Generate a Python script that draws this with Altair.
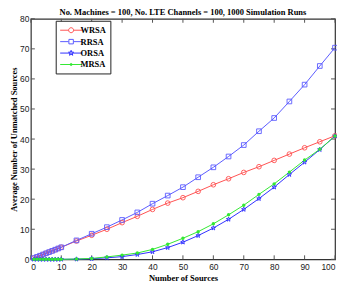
import altair as alt
import pandas as pd
import math

# ---- data ----
x_vals = [1, 2, 3, 4, 5, 6, 7, 8, 9, 10, 15, 20, 25, 30, 35, 40, 45, 50,
          55, 60, 65, 70, 75, 80, 85, 90, 95, 100]
wrsa = [0.4, 0.8, 1.2, 1.6, 2.0, 2.4, 2.8, 3.2, 3.6, 4.0, 6.1, 8.0, 10.0, 12.2,
        14.3, 16.6, 18.7, 20.5, 22.6, 24.8, 26.8, 28.9, 30.8, 32.9, 35.0,
        37.1, 39.1, 41.1]
rrsa = [0.4, 0.8, 1.2, 1.6, 2.0, 2.4, 2.8, 3.2, 3.6, 4.0, 6.3, 8.5, 10.7, 13.1,
        15.6, 18.5, 21.2, 24.0, 27.3, 30.6, 34.2, 38.0, 42.6, 47.0, 52.5,
        58.1, 64.3, 70.4]
orsa = [0, 0, 0, 0, 0, 0, 0, 0, 0, 0, 0.05, 0.2, 0.5, 0.9, 1.6, 2.5, 3.9,
        5.7, 7.9, 10.4, 13.3, 16.6, 20.2, 24.0, 28.2, 32.3, 36.5, 41.0]
mrsa = [0, 0, 0, 0, 0, 0, 0, 0, 0, 0, 0.1, 0.3, 0.8, 1.4, 2.1, 3.3, 5.0,
        7.0, 9.2, 11.8, 14.8, 18.0, 21.6, 25.1, 29.0, 33.0, 36.6, 41.0]
series_names = ["WRSA", "RRSA", "ORSA", "MRSA"]
series_vals = [wrsa, rrsa, orsa, mrsa]
x_ticks = [0, 10, 20, 30, 40, 50, 60, 70, 80, 90, 100]
y_ticks = [0, 10, 20, 30, 40, 50, 60, 70, 80]

title_text = "No. Machines = 100, No. LTE Channels = 100, 1000 Simulation Runs"
x_title = "Number of Sources"
y_title = "Average Number of Unmatched Sources"

# ---- styles ----
colors = ["#ff5252", "#5c5cff", "#3030ff", "#33e833"]
W, H = 306, 242
SERIF = "Liberation Serif"
SANS = "Liberation Sans"


def star_path(R, r):
    pts = []
    for k in range(10):
        ang = math.radians(-90 + 36 * k)
        rad = R if k % 2 == 0 else r
        pts.append((rad * math.cos(ang), rad * math.sin(ang)))
    return "M" + "L".join(f"{px:.3f},{py:.3f}" for px, py in pts) + "Z"


def circle_path(rad):
    return f"M{-rad},0A{rad},{rad} 0 1,0 {rad},0A{rad},{rad} 0 1,0 {-rad},0"


def square_path(h):
    return f"M{-h},{-h}H{h}V{h}H{-h}Z"


# data-point shapes
pt_shapes = ["circle", "square", star_path(1, 0.42), "circle"]
# legend shapes: line + marker (legend symbol scale: 1 unit = 5 px)
L = 2.2
LR = 0.5
leg_shapes = [
    f"M{-L},0H{-LR}M{LR},0H{L}" + circle_path(LR),
    f"M{-L},0H{-LR}M{LR},0H{L}" + square_path(LR * 0.9),
    f"M{-L},0H{L}" + star_path(0.55, 0.24),
    f"M{-L},0H{L}" + circle_path(0.22),
]

rows = []
for name, vals in zip(series_names, series_vals):
    for xv, yv in zip(x_vals, vals):
        rows.append({"x": xv, "y": yv, "series": name})
df = pd.DataFrame(rows)

xs = alt.Scale(domain=[0, 100], nice=False)
ys = alt.Scale(domain=[0, 80], nice=False)
color_scale = alt.Scale(domain=series_names, range=colors)

x_axis = alt.Axis(values=x_ticks, title=x_title, tickSize=0, domain=False,
                  grid=False, labelPadding=3, titlePadding=3, labelOverlap=False)
y_axis = alt.Axis(values=y_ticks, title=y_title, tickSize=0, domain=False,
                  grid=False, labelPadding=2, titlePadding=1, labelOverlap=False)


def X(field):
    return alt.X(field, scale=xs, axis=x_axis, title=x_title)


def Y(field):
    return alt.Y(field, scale=ys, axis=y_axis, title=y_title)


base = alt.Chart(df)

lines = base.mark_line(strokeWidth=1).encode(
    x=X("x:Q"), y=Y("y:Q"),
    color=alt.Color("series:N", scale=color_scale, legend=None),
    detail="series:N",
)

open_pts = base.transform_filter("datum.series != 'MRSA'").mark_point(
    filled=False, strokeWidth=0.9, opacity=1
).encode(
    x=X("x:Q"), y=Y("y:Q"),
    color=alt.Color("series:N", scale=color_scale, legend=None),
    shape=alt.Shape("series:N", scale=alt.Scale(domain=series_names, range=pt_shapes),
                    legend=None),
    size=alt.Size("series:N", scale=alt.Scale(domain=series_names, range=[22, 22, 24, 10]),
                  legend=None),
)

mrsa_pts = base.transform_filter("datum.series == 'MRSA'").mark_point(
    filled=True, shape="circle", size=12, opacity=1, color=colors[3]
).encode(x=X("x:Q"), y=Y("y:Q"))

legend_layer = base.transform_filter("datum.x < 0").transform_calculate(
    s2="datum.series"
).mark_point(filled=False, strokeWidth=1, opacity=1).encode(
    x=X("x:Q"), y=Y("y:Q"),
    color=alt.Color("s2:N", scale=alt.Scale(domain=series_names, range=colors),
                    legend=alt.Legend(title=None)),
    shape=alt.Shape(
        "s2:N",
        scale=alt.Scale(domain=series_names, range=leg_shapes),
        legend=alt.Legend(
            title=None, orient="none", legendX=25, legendY=2,
            symbolSize=100, symbolStrokeWidth=1, symbolOffset=6,
            labelFont=SERIF, labelFontWeight="bold", labelFontSize=8.5,
            labelColor="black", labelOffset=4, rowPadding=1.5,
            padding=4, strokeColor="#222", fillColor="white",
            symbolFillColor="transparent",
        ),
    ),
)

tick_len = 4
xt = pd.DataFrame({"v": x_ticks})
yt = pd.DataFrame({"v": y_ticks})
tick_color = "#555"
bottom_ticks = alt.Chart(xt).mark_rule(color=tick_color, strokeWidth=1).encode(
    x=X("v:Q"), y=alt.value(H), y2=alt.value(H - tick_len))
top_ticks = alt.Chart(xt).mark_rule(color=tick_color, strokeWidth=1).encode(
    x=X("v:Q"), y=alt.value(0), y2=alt.value(tick_len))
left_ticks = alt.Chart(yt).mark_rule(color=tick_color, strokeWidth=1).encode(
    y=Y("v:Q"), x=alt.value(0), x2=alt.value(tick_len))
right_ticks = alt.Chart(yt).mark_rule(color=tick_color, strokeWidth=1).encode(
    y=Y("v:Q"), x=alt.value(W), x2=alt.value(W - tick_len))

chart = alt.layer(
    bottom_ticks, top_ticks, left_ticks, right_ticks,
    lines, open_pts, mrsa_pts, legend_layer,
).resolve_scale(
    shape="independent", size="independent", color="independent"
).resolve_legend(
    shape="independent", color="independent"
).properties(
    width=W, height=H,
    title=alt.Title(title_text, font=SERIF, fontWeight="bold", fontSize=8.5,
                    color="black", offset=-2, anchor="middle"),
    autosize=alt.AutoSizeParams(type="none"),
    padding={"left": 23, "top": 10, "right": 2, "bottom": 26},
).configure_view(
    stroke="#333", strokeWidth=1.2
).configure_axis(
    labelFont=SANS, labelFontSize=8.5, labelColor="#222",
    titleFont=SERIF, titleFontWeight="bold", titleFontSize=8.5, titleColor="black",
)

chart.save("out.html", embed_options={"renderer": "svg", "actions": False})
